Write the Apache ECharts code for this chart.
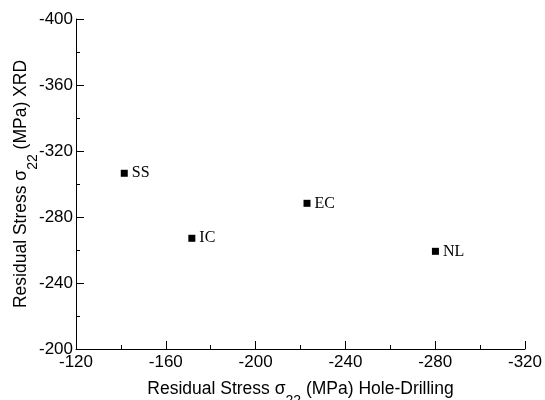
<!DOCTYPE html>
<html>
<head>
<meta charset="utf-8">
<script src="https://cdn.jsdelivr.net/npm/echarts@6/dist/echarts.min.js"></script>
<style>
  html, body { margin: 0; padding: 0; background: #fff; }
  #chart { width: 545px; height: 400px; }
</style>
</head>
<body>
<div id="chart"></div>
<script>
const names = ['SS', 'IC', 'EC', 'NL']
const holeDrilling = [-141.5, -171.6, -222.9, -280.1]
const xrd = [-306.5, -267.1, -288.3, -259.2]

const axisFont = 'Liberation Sans, Arial, sans-serif'
const nameRich = {
  s: { fontFamily: axisFont, fontSize: 17.5, color: '#000' },
  sub: { fontFamily: axisFont, fontSize: 14, color: '#000', verticalAlign: 'bottom', padding: [0, 0, -10, 0] }
}

const chart = echarts.init(document.getElementById('chart'))
chart.setOption({
  animation: false,
  grid: { left: 76, right: 20, top: 19, bottom: 51, outerBoundsMode: 'none', containLabel: false },
  xAxis: {
    type: 'value',
    inverse: true,
    min: -320,
    max: -120,
    interval: 40,
    name: '{s|Residual Stress σ}{sub|22}{s| (MPa) Hole-Drilling}',
    nameLocation: 'middle',
    nameGap: 31,
    nameMoveOverlap: false,
    nameTextStyle: { rich: nameRich },
    axisLine: { lineStyle: { color: '#000', width: 1 } },
    axisTick: { inside: true, length: 8, lineStyle: { color: '#000' } },
    minorTick: { show: true, splitNumber: 2, length: 4, lineStyle: { color: '#000' } },
    splitLine: { show: false },
    axisLabel: { color: '#000', fontFamily: axisFont, fontSize: 17, margin: 5 }
  },
  yAxis: {
    type: 'value',
    inverse: true,
    min: -400,
    max: -200,
    interval: 40,
    name: '{s|Residual Stress σ}{sub|22}{s| (MPa) XRD}',
    nameLocation: 'middle',
    nameGap: 46,
    nameMoveOverlap: false,
    nameTextStyle: { rich: nameRich },
    axisLine: { lineStyle: { color: '#000', width: 1 } },
    axisTick: { inside: true, length: 8, lineStyle: { color: '#000' } },
    minorTick: { show: true, splitNumber: 2, length: 4, lineStyle: { color: '#000' } },
    splitLine: { show: false },
    axisLabel: { color: '#000', fontFamily: axisFont, fontSize: 17, margin: 3 }
  },
  series: [{
    type: 'scatter',
    symbol: 'rect',
    symbolSize: 7,
    itemStyle: { color: '#000', opacity: 1 },
    data: holeDrilling.map((x, i) => ({ value: [x, xrd[i]], name: names[i] })),
    label: {
      show: true,
      position: 'right',
      distance: 4,
      formatter: p => p.name,
      color: '#000',
      fontFamily: 'Liberation Serif, Times New Roman, serif',
      fontSize: 16
    }
  }]
})
</script>
</body>
</html>
